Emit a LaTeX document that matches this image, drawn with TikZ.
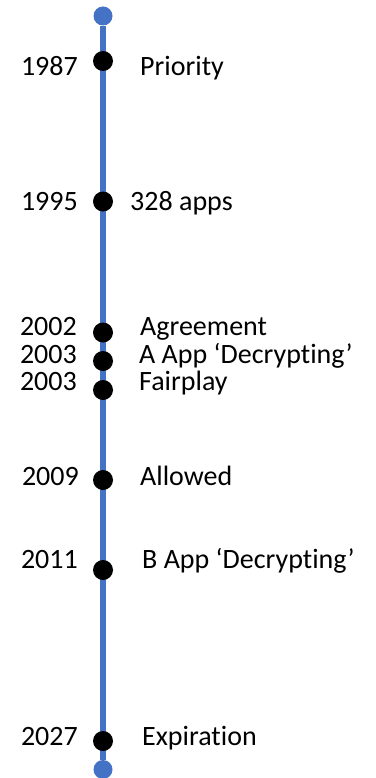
\documentclass[tikz,border=0pt]{standalone}
\usepackage{fontspec}
\setmainfont[Ligatures=NoCommon]{Carlito}
\definecolor{lineblue}{HTML}{4472C4}
\begin{document}
\begin{tikzpicture}[x=1pt,y=-1pt,
  endcap/.style={circle,fill=lineblue,inner sep=0pt,minimum size=19pt},
  event/.style={circle,fill=black,inner sep=0pt,minimum size=20pt},
  axis/.style={draw=lineblue,line width=6.7pt},
  yeartext/.style={anchor=base east,inner sep=0pt,font=\fontsize{28}{34}\selectfont},
  evtext/.style={anchor=base west,inner sep=0pt,font=\fontsize{28}{34}\selectfont}]
\useasboundingbox (0,0) rectangle (375,778);

% timeline axis with its two end caps
\node[endcap] (top) at (103,16) {};
\node[endcap] (bottom) at (103,769.5) {};
\draw[axis] (top) -- (bottom);

% event markers
\node[event] (e1987) at (103,61) {};
\node[event] (e1995) at (103,201.5) {};
\node[event] (e2002) at (103,332.5) {};
\node[event] (e2003a) at (103,361) {};
\node[event] (e2003b) at (103,390) {};
\node[event] (e2009) at (103,480) {};
\node[event] (e2011) at (103,570) {};
\node[event] (e2027) at (103,741) {};

% years
\node[yeartext] (y1987) at (78,76) {1987};
\node[yeartext] (y1995) at (78,210) {1995};
\node[yeartext] (y2002) at (77,335) {2002};
\node[yeartext] (y2003a) at (77,363) {2003};
\node[yeartext] (y2003b) at (77,390) {2003};
\node[yeartext] (y2009) at (79,485) {2009};
\node[yeartext] (y2011) at (78,568) {2011};
\node[yeartext] (y2027) at (78,745) {2027};

% descriptions
\node[evtext] (t1987) at (140,76) {Priority};
\node[evtext] (t1995) at (130,210) {328 apps};
\node[evtext] (t2002) at (140,335) {Agreement};
\node[evtext] (t2003a) at (139,363) {A App ‘Decrypting’};
\node[evtext] (t2003b) at (139,390) {Fairplay};
\node[evtext] (t2009) at (140,485) {Allowed};
\node[evtext] (t2011) at (142,568) {B App ‘Decrypting’};
\node[evtext] (t2027) at (142,745) {Expiration};
\end{tikzpicture}
\end{document}
